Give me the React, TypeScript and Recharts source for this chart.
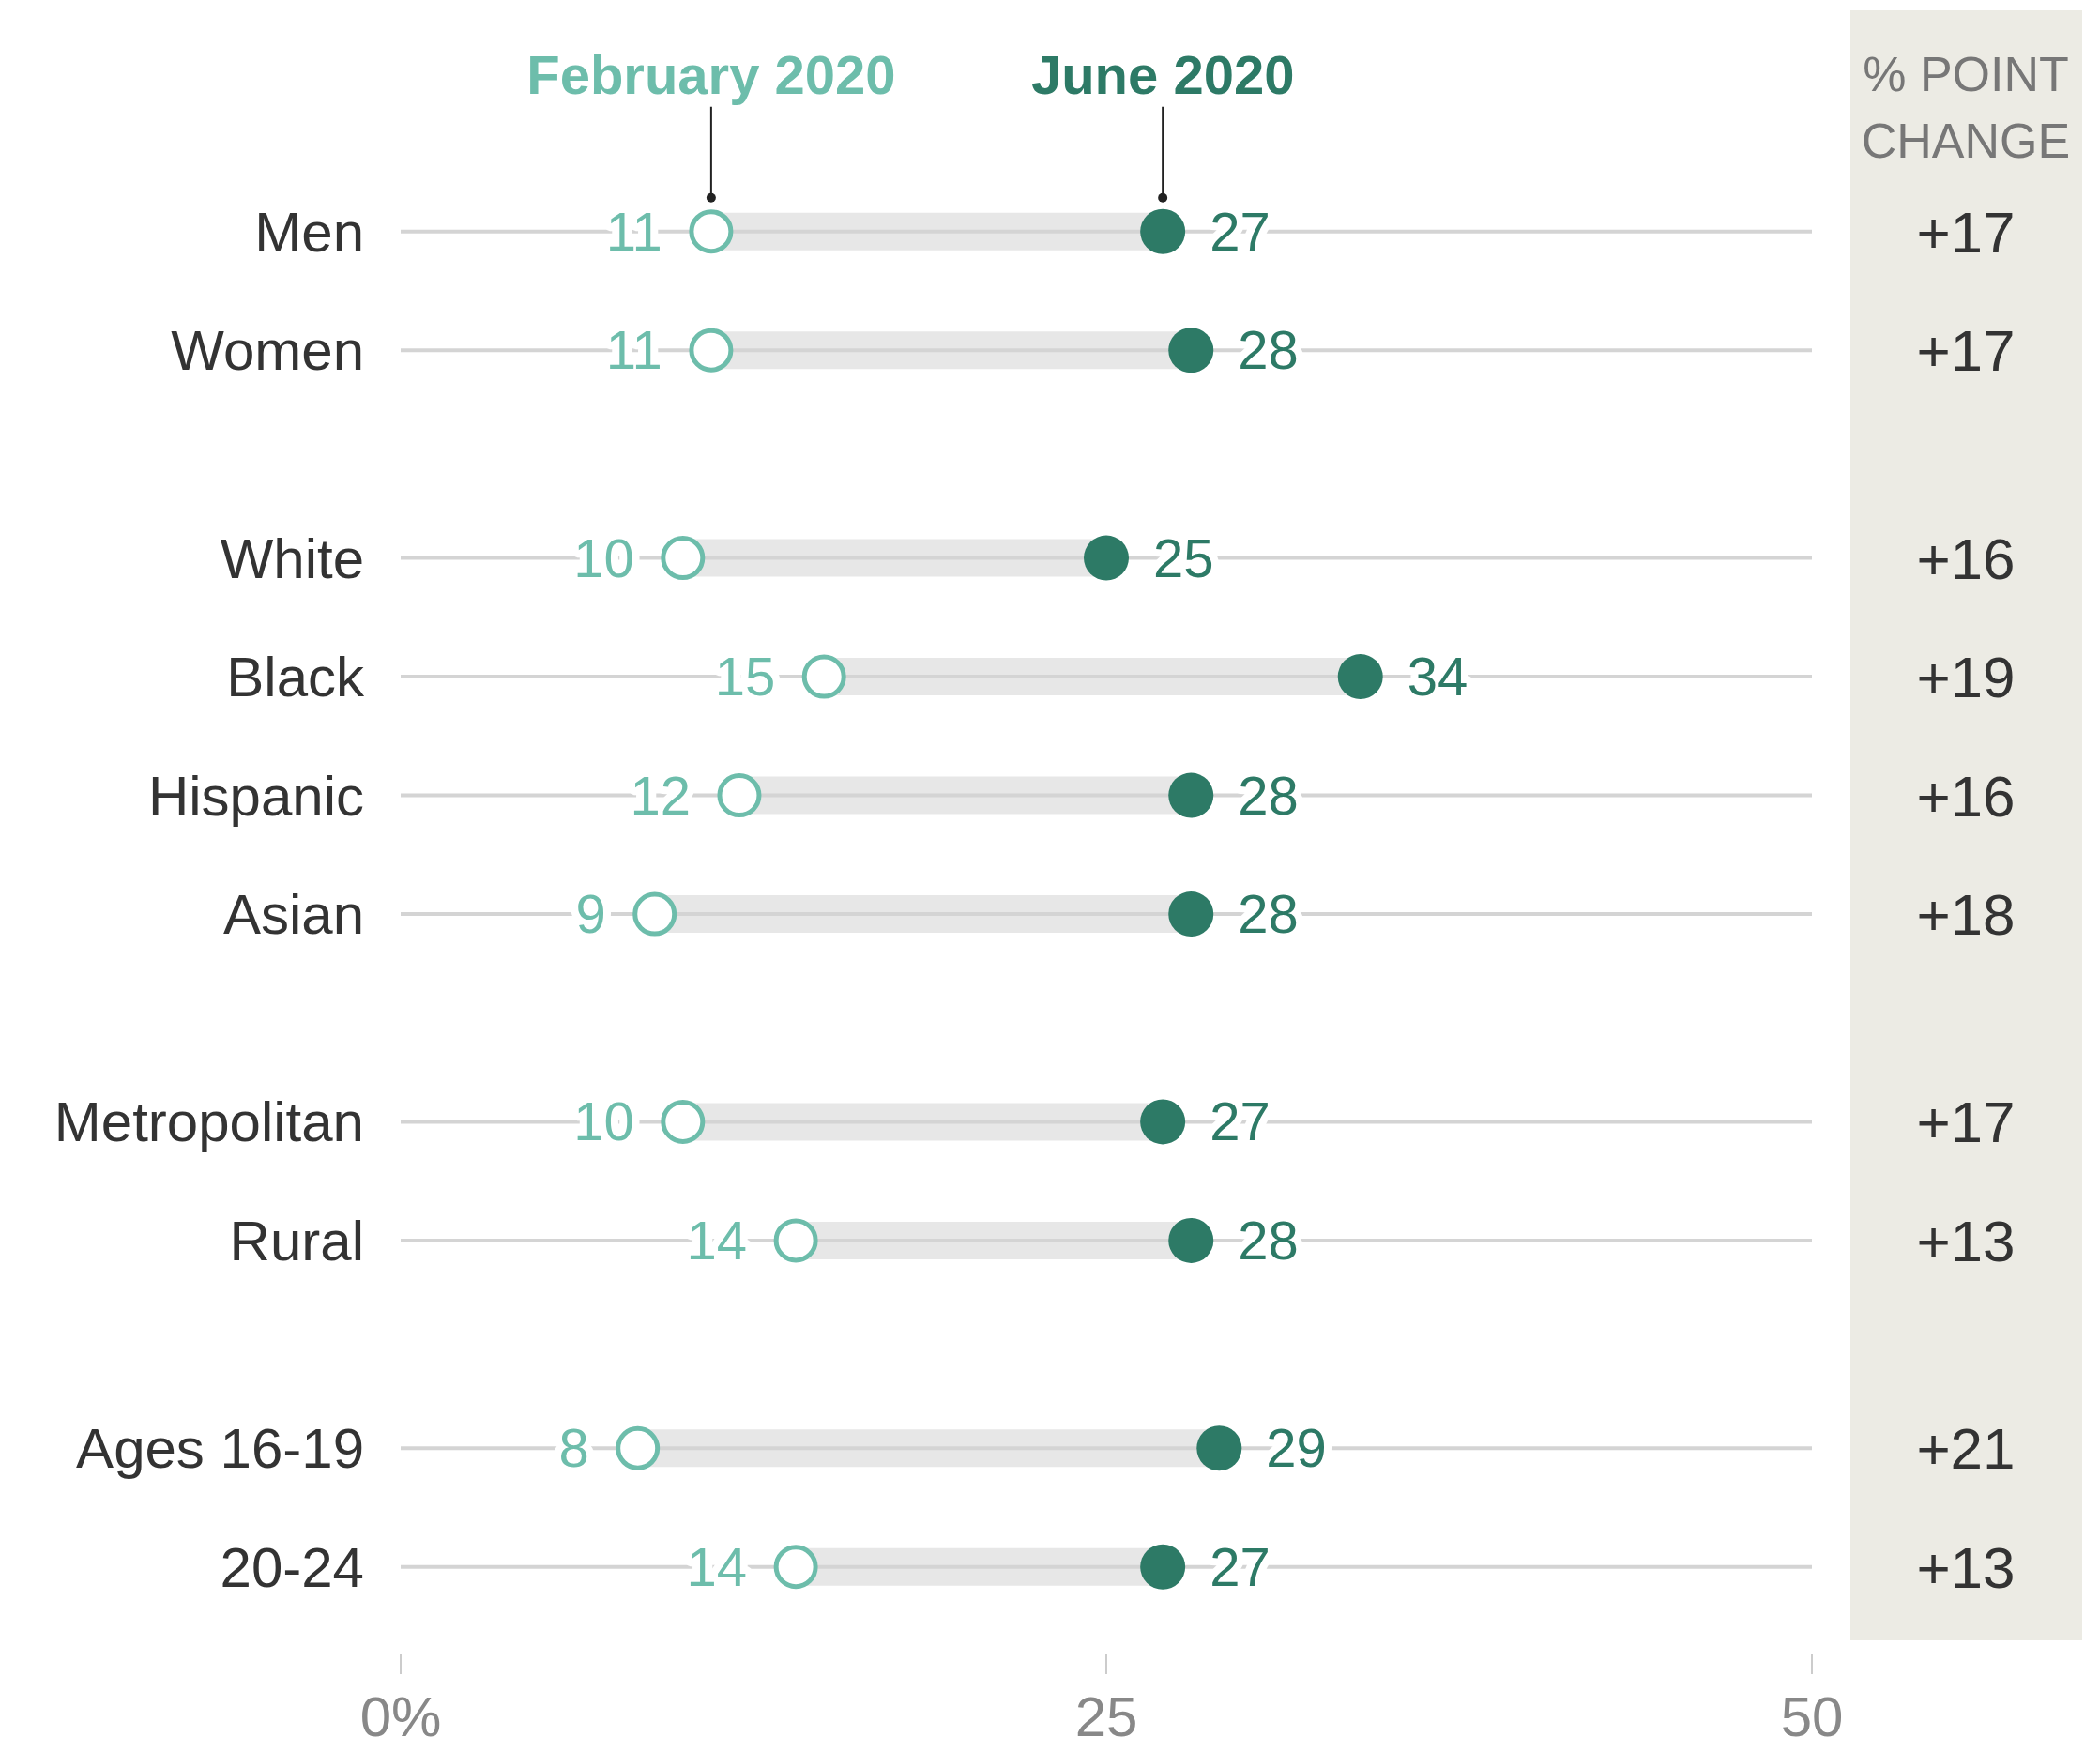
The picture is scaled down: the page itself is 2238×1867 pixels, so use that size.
import React from 'react'
import { ScatterChart, Scatter, XAxis, YAxis, LabelList } from 'recharts'

const categories = ['Men', 'Women', 'White', 'Black', 'Hispanic', 'Asian', 'Metropolitan', 'Rural', 'Ages 16-19', '20-24']
const groups = [0, 0, 1, 1, 1, 1, 2, 2, 3, 3]
const feb2020 = [11, 11, 10, 15, 12, 9, 10, 14, 8.4, 14]
const june2020 = [27, 28, 25, 34, 28, 28, 27, 28, 29, 27]
const pointChange = ['+17', '+17', '+16', '+19', '+16', '+18', '+17', '+13', '+21', '+13']
const xTicks = [0, 25, 50]
const xTickLabels = ['0%', '25', '50']

const FEB = '#6dbdab'
const JUNE = '#2d7a66'
const FONT = '"Liberation Sans", Arial, sans-serif'

const rows = categories.map((name, i) => ({
    name,
    pos: i + groups[i] * 0.75,
    feb: feb2020[i],
    june: june2020[i],
    change: pointChange[i],
}))
const positions = rows.map(r => r.pos)
const febPoints = rows.map(r => ({ x: r.feb, y: r.pos }))
const junePoints = rows.map(r => ({ x: r.june, y: r.pos }))

const rowAt = (v: number) => rows.find(r => Math.abs(r.pos - v) < 1e-6)
const center = (p: any) => {
    const vb = p.viewBox || p
    return { cx: vb.x + (vb.width || 0) / 2, cy: vb.y + (vb.height || 0) / 2 }
}
const Nothing = () => <g />

const OpenDot = (p: any) => <circle cx={p.cx} cy={p.cy} r={21} fill="#fff" stroke={FEB} strokeWidth={5} />
const FilledDot = (p: any) => <circle cx={p.cx} cy={p.cy} r={24} fill={JUNE} />

const halo = { stroke: '#fff', strokeWidth: 16, strokeLinejoin: 'round' as const, style: { paintOrder: 'stroke' } as React.CSSProperties }

const FebLabel = (p: any) => {
    const { cx, cy } = center(p)
    return (
        <text x={cx - 52} y={cy + 20} textAnchor="end" fill={FEB} fontSize={58} fontFamily={FONT} {...halo}>
            {Math.round(Number(p.value))}
        </text>
    )
}

const JuneLabel = (p: any) => {
    const { cx, cy } = center(p)
    return (
        <text x={cx + 50} y={cy + 20} textAnchor="start" fill={JUNE} fontSize={58} fontFamily={FONT} {...halo}>
            {Math.round(Number(p.value))}
        </text>
    )
}

const annotation = (title: string, color: string) => (p: any) => {
    const { cx, cy } = center(p)
    return (
        <g>
            <line x1={cx} x2={cx} y1={cy - 133} y2={cy - 36} stroke="#222" strokeWidth={2} />
            <circle cx={cx} cy={cy - 36} r={5} fill="#222" />
            <text x={cx} y={cy - 147} textAnchor="middle" fill={color} fontSize={58} fontWeight="bold" fontFamily={FONT}>
                {title}
            </text>
        </g>
    )
}

const CategoryTick = (p: any) => (
    <text x={p.x - 39} y={p.y + 21} textAnchor="end" fill="#333" fontSize={60} fontFamily={FONT}>
        {rowAt(p.payload.value)?.name}
    </text>
)

const ChangeTick = (p: any) => (
    <text x={p.x + 164} y={p.y + 22} textAnchor="middle" fill="#333" fontSize={62} fontFamily={FONT}>
        {rowAt(p.payload.value)?.change}
    </text>
)

const ChangeHeader = (p: any) => {
    const vb = p.viewBox
    return (
        <g fill="#777" fontSize={52} fontFamily={FONT} textAnchor="middle">
            <text x={vb.x + 164} y={vb.y + 40}>% POINT</text>
            <text x={vb.x + 164} y={vb.y + 111}>CHANGE</text>
        </g>
    )
}

const ValueTick = (p: any) => (
    <g>
        <line x1={p.x} x2={p.x} y1={p.y + 30} y2={p.y + 51} stroke="#ccc" strokeWidth={2} />
        <text x={p.x} y={p.y + 117} textAnchor="middle" fill="#888" fontSize={60} fontFamily={FONT}>
            {xTickLabels[xTicks.indexOf(p.payload.value)]}
        </text>
    </g>
)

function DumbbellChart() {
    return (
        <div style={{ position: 'relative', width: 2222, height: 1859, fontFamily: FONT }}>
            <div style={{ position: 'absolute', left: 1964, top: 3, width: 247, height: 1737, background: '#ecebe4' }} />
            <ScatterChart
                width={2222}
                height={1859}
                margin={{ top: 49, right: 0, left: 0, bottom: 0 }}
                style={{ position: 'relative' }}
            >
                <XAxis
                    type="number"
                    dataKey="x"
                    domain={[0, 50]}
                    ticks={xTicks}
                    axisLine={false}
                    tickLine={false}
                    tickSize={0}
                    tickMargin={0}
                    height={134}
                    tick={<ValueTick />}
                    interval={0}
                />
                <YAxis
                    yAxisId="left"
                    type="number"
                    dataKey="y"
                    domain={[-1.5, 11.75]}
                    reversed
                    ticks={positions}
                    interval={0}
                    axisLine={false}
                    tickLine={false}
                    tickSize={0}
                    tickMargin={0}
                    width={419}
                    tick={<CategoryTick />}
                />
                <YAxis
                    yAxisId="right"
                    orientation="right"
                    type="number"
                    dataKey="y"
                    domain={[-1.5, 11.75]}
                    reversed
                    ticks={positions}
                    interval={0}
                    axisLine={false}
                    tickLine={false}
                    tickSize={0}
                    tickMargin={0}
                    width={299}
                    tick={<ChangeTick />}
                    label={<ChangeHeader />}
                />
                <Scatter yAxisId="right" data={junePoints} shape={<Nothing />} isAnimationActive={false} />
                {rows.map((r, i) => (
                    <Scatter
                        key={'band' + i}
                        yAxisId="left"
                        data={[{ x: r.feb, y: r.pos }, { x: r.june, y: r.pos }]}
                        line={{ stroke: '#e7e7e7', strokeWidth: 40 }}
                        shape={<Nothing />}
                        isAnimationActive={false}
                    />
                ))}
                {rows.map((r, i) => (
                    <Scatter
                        key={'row' + i}
                        yAxisId="left"
                        data={[{ x: 0, y: r.pos }, { x: 50, y: r.pos }]}
                        line={{ stroke: '#d4d4d4', strokeWidth: 4 }}
                        shape={<Nothing />}
                        isAnimationActive={false}
                    />
                ))}
                <Scatter yAxisId="left" data={febPoints} shape={<OpenDot />} isAnimationActive={false}>
                    <LabelList dataKey="x" content={<FebLabel />} />
                </Scatter>
                <Scatter yAxisId="left" data={junePoints} shape={<FilledDot />} isAnimationActive={false}>
                    <LabelList dataKey="x" content={<JuneLabel />} />
                </Scatter>
                <Scatter yAxisId="left" data={[febPoints[0]]} shape={<Nothing />} isAnimationActive={false}>
                    <LabelList dataKey="x" content={annotation('February 2020', FEB)} />
                </Scatter>
                <Scatter yAxisId="left" data={[junePoints[0]]} shape={<Nothing />} isAnimationActive={false}>
                    <LabelList dataKey="x" content={annotation('June 2020', JUNE)} />
                </Scatter>
            </ScatterChart>
        </div>
    )
}

export default function App() {
    return <DumbbellChart />
}
